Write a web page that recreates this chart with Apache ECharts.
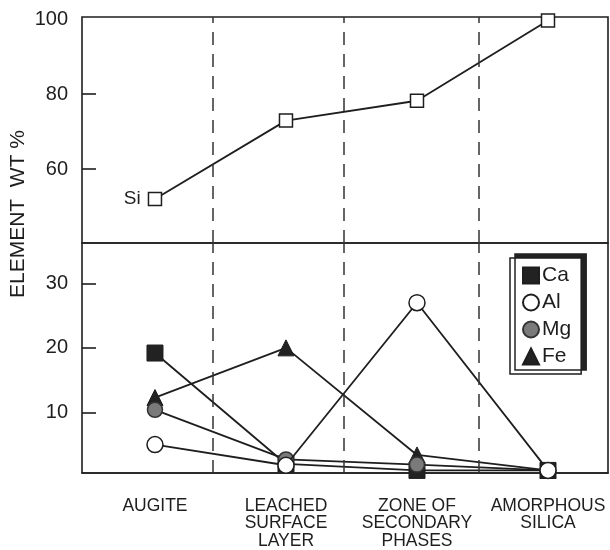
<!DOCTYPE html>
<html>
<head>
<meta charset="utf-8">
<script src="https://cdn.jsdelivr.net/npm/echarts@6/dist/echarts.min.js"></script>
<style>
html,body{margin:0;padding:0;background:#fff;}
#c{width:610px;height:550px;}
</style>
</head>
<body>
<div id="c"></div>
<script>
// ---- data ----
const stages = ['AUGITE', 'LEACHED\nSURFACE\nLAYER', 'ZONE OF\nSECONDARY\nPHASES', 'AMORPHOUS\nSILICA'];
const stagePos = [1, 2, 3, 4];
const zoneBoundaries = [1.443, 2.435, 3.466];
const si = [52, 72.9, 78.2, 99.6];
const ca = [19.2, 2.0, 1.0, 1.0];
const al = [5.0, 1.8, 27.0, 1.0];
const mg = [10.4, 2.7, 1.9, 1.0];
const fe = [12.3, 20.0, 3.4, 1.0];
const topTicks = [60, 80];
const topLabels = [60, 80, 100];
const bottomTicks = [10, 20, 30];

const FONT = '"Liberation Sans", Arial, Helvetica, sans-serif';
const INK = '#1e1e1e';

function pts(vals) { return vals.map((v, i) => [stagePos[i], v]); }

const chart = echarts.init(document.getElementById('c'), null, {renderer: 'canvas'});

const dashLine = {
  silent: true,
  symbol: 'none',
  label: {show: false},
  lineStyle: {type: [13, 9], color: '#333', width: 1.5},
  data: zoneBoundaries.map(b => ({xAxis: b}))
};

const option = {
  backgroundColor: '#fff',
  animation: false,
  textStyle: {fontFamily: FONT},
  grid: [
    {left: 82, top: 17, width: 526, height: 226, show: true, borderColor: INK, borderWidth: 1.6, backgroundColor: 'transparent'},
    {left: 82, top: 243, width: 526, height: 230, show: true, borderColor: INK, borderWidth: 1.6, backgroundColor: 'transparent'}
  ],
  xAxis: [
    {gridIndex: 0, type: 'value', min: 0.443, max: 4.458, show: false},
    {gridIndex: 1, type: 'value', min: 0.443, max: 4.458,
      axisLine: {show: true, lineStyle: {color: INK, width: 1.6}},
      axisTick: {show: false},
      splitLine: {show: false},
      axisLabel: {
        customValues: stagePos,
        formatter: v => stages[Math.round(v) - 1],
        fontSize: 17.5, lineHeight: 17.5, color: INK, margin: 24, fontFamily: FONT, align: 'center'
      }
    }
  ],
  yAxis: [
    {gridIndex: 0, type: 'value', min: 40.27, max: 100.53,
      axisLine: {show: false},
      splitLine: {show: false},
      axisTick: {show: true, inside: true, length: 14, customValues: topTicks, lineStyle: {color: INK, width: 1.6}},
      axisLabel: {customValues: topLabels, fontSize: 20, color: INK, margin: 14, fontFamily: FONT}
    },
    {gridIndex: 1, type: 'value', min: 0.6, max: 36.26,
      axisLine: {show: false},
      splitLine: {show: false},
      axisTick: {show: true, inside: true, length: 14, customValues: bottomTicks, lineStyle: {color: INK, width: 1.6}},
      axisLabel: {customValues: bottomTicks, fontSize: 20, color: INK, margin: 14, fontFamily: FONT}
    }
  ],
  legend: {
    orient: 'vertical',
    left: 510, top: 258,
    padding: [7, 10, 7, 12],
    itemGap: 6,
    itemWidth: 16, itemHeight: 16,
    backgroundColor: '#fff',
    borderColor: INK, borderWidth: 1.5,
    shadowColor: '#222', shadowBlur: 0, shadowOffsetX: 5, shadowOffsetY: -4,
    textStyle: {fontSize: 21, color: INK, fontFamily: FONT, padding: [0, 0, 0, -2]},
    data: [
      {name: 'Ca', icon: 'rect'},
      {name: 'Al', icon: 'circle'},
      {name: 'Mg', icon: 'circle'},
      {name: 'Fe', icon: 'triangle'}
    ]
  },
  series: [
    {
      name: 'Si', type: 'line', xAxisIndex: 0, yAxisIndex: 0,
      data: pts(si).map((p, i) => i === 0 ? {value: p, label: {show: true, position: 'left', distance: 7, formatter: 'Si', fontSize: 19, color: INK, fontFamily: FONT}} : p),
      symbol: 'rect', symbolSize: 13,
      lineStyle: {color: INK, width: 1.8},
      itemStyle: {color: '#fff', borderColor: INK, borderWidth: 1.5},
      markLine: dashLine, z: 3
    },
    {
      name: 'Ca', type: 'line', xAxisIndex: 1, yAxisIndex: 1,
      data: pts(ca),
      symbol: 'rect', symbolSize: 16,
      lineStyle: {color: INK, width: 1.8},
      itemStyle: {color: '#222', borderColor: INK, borderWidth: 1},
      markLine: dashLine, z: 3
    },
    {
      name: 'Al', type: 'line', xAxisIndex: 1, yAxisIndex: 1,
      data: pts(al),
      symbol: 'circle', symbolSize: 16,
      lineStyle: {color: INK, width: 1.8},
      itemStyle: {color: '#fff', borderColor: INK, borderWidth: 1.5}, z: 4
    },
    {
      name: 'Fe', type: 'line', xAxisIndex: 1, yAxisIndex: 1,
      data: pts(fe),
      symbol: 'triangle', symbolSize: 16,
      lineStyle: {color: INK, width: 1.8},
      itemStyle: {color: '#222', borderColor: INK, borderWidth: 1}, z: 3
    },
    {
      name: 'Mg', type: 'line', xAxisIndex: 1, yAxisIndex: 1,
      data: pts(mg),
      symbol: 'circle', symbolSize: 15,
      lineStyle: {color: INK, width: 1.8},
      itemStyle: {color: '#7a7a7a', borderColor: '#333', borderWidth: 1.5}, z: 3
    }
  ],
  graphic: [
    {
      type: 'text', x: 18, y: 214, rotation: Math.PI / 2,
      style: {text: 'ELEMENT  WT %', fontSize: 21, fontFamily: FONT, fill: INK, align: 'center', verticalAlign: 'middle'}
    }
  ]
};
chart.setOption(option);
</script>
</body>
</html>
